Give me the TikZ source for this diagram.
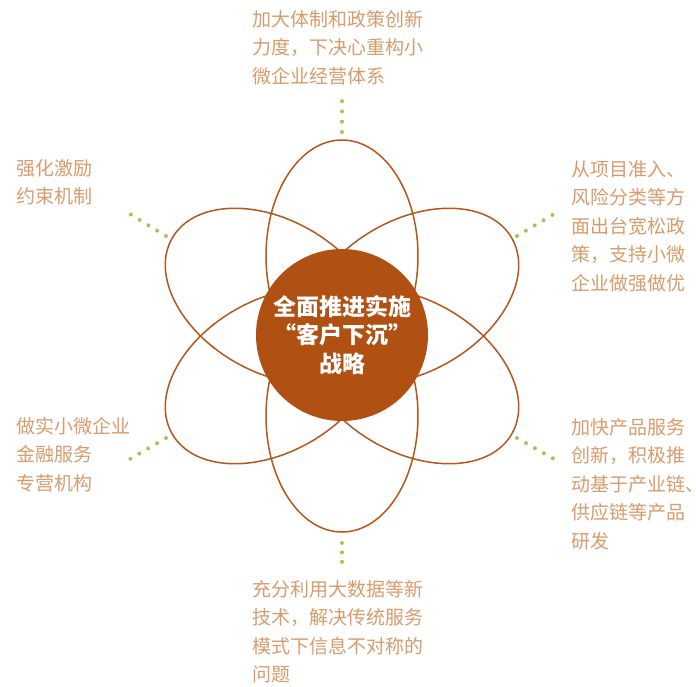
\documentclass[tikz,border=0pt]{standalone}
\usepackage{fontspec}
\newfontfamily\cjk{Noto Sans CJK SC}
\usepackage{xcolor}
\definecolor{petalbrown}{RGB}{181, 86, 28}
\definecolor{hubbrown}{RGB}{176, 80, 18}
\definecolor{texttan}{RGB}{216, 155, 108}
\definecolor{dotgreen}{RGB}{168, 194, 86}

\begin{document}
\begin{tikzpicture}[
      x=1pt, y=-1pt,
      petal/.style={draw=petalbrown, line width=1.5pt},
      hub/.style={circle, fill=hubbrown, minimum size=172pt, inner sep=0pt, align=center, text=white, font=\cjk\bfseries\fontsize{23}{28.5}\selectfont},
      item/.style={anchor=north west, inner sep=0pt, align=left, text=texttan, font=\cjk\fontsize{19}{28.5}\selectfont},
      dotlink/.style={draw=dotgreen, line width=4pt, line cap=round, dash pattern=on 0pt off 10.3pt}
    ]
      \useasboundingbox (0,0) rectangle (696,686);

      \coordinate (O) at (342,336);
      \foreach \ang in {30,90,...,330}
        \draw[petal, shift={(O)}, rotate=\ang] (80,0) ellipse [x radius=116pt, y radius=76pt];

      \node[hub] (hub) at (342,335) {全面推进实施\\“客户下沉”\\战略};

      \node[item] (top) at (252,10) {加大体制和政策创新\\力度，下决心重构小\\微企业经营体系};
      \node[item] (rtop) at (571,160) {从项目准入、\\风险分类等方\\面出台宽松政\\策，支持小微\\企业做强做优};
      \node[item] (ltop) at (16,159) {强化激励\\约束机制};
      \node[item] (rbot) at (571,418) {加快产品服务\\创新，积极推\\动基于产业链、\\供应链等产品\\研发};
      \node[item] (lbot) at (16,417) {做实小微企业\\金融服务\\专营机构};
      \node[item] (bot) at (252,580) {充分利用大数据等新\\技术，解决传统服务\\模式下信息不对称的\\问题};

      \coordinate (top-in) at (342,132);
      \coordinate (top-out) at (342,101);
      \coordinate (rtop-in) at (517,236);
      \coordinate (rtop-out) at (554,214);
      \coordinate (ltop-in) at (166,236);
      \coordinate (ltop-out) at (130,214);
      \coordinate (rbot-in) at (517,438);
      \coordinate (rbot-out) at (554,459);
      \coordinate (lbot-in) at (166,438);
      \coordinate (lbot-out) at (130,459);
      \coordinate (bot-in) at (342,543);
      \coordinate (bot-out) at (342,562);

      \draw[dotlink] (top-in) -- (top-out);
      \draw[dotlink] (rtop-in) -- (rtop-out);
      \draw[dotlink] (ltop-in) -- (ltop-out);
      \draw[dotlink] (rbot-in) -- (rbot-out);
      \draw[dotlink] (lbot-in) -- (lbot-out);
      \draw[dotlink, dash pattern=on 0pt off 9.4pt] (bot-in) -- (bot-out);
    \end{tikzpicture}
\end{document}
